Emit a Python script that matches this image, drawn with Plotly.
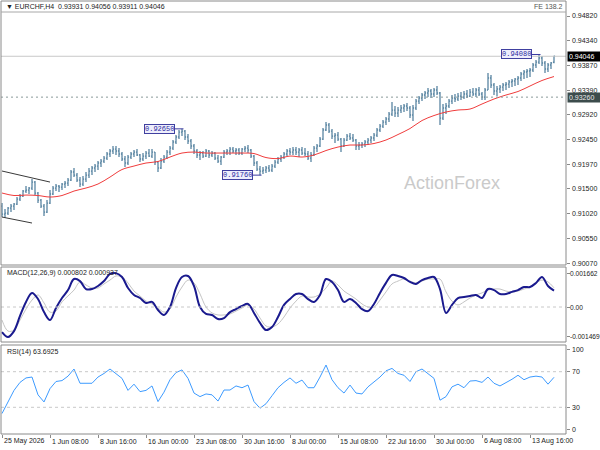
import plotly.graph_objects as go

# EURCHF H4 chart, bars (one bar per 8 hours)
opens = [
    0.91166, 0.91012, 0.91031, 0.91127, 0.91166, 0.91204, 0.91300, 0.91358, 0.91454, 0.91473,
    0.91512, 0.91627, 0.91416, 0.91281, 0.91166, 0.91050, 0.91223, 0.91397, 0.91512, 0.91550,
    0.91531, 0.91589, 0.91608, 0.91666, 0.91820, 0.91762, 0.91666, 0.91589, 0.91685, 0.91762,
    0.91839, 0.91897, 0.91935, 0.91993, 0.92031, 0.92089, 0.92166, 0.92224, 0.92262, 0.92224,
    0.92166, 0.92070, 0.91993, 0.92108, 0.92166, 0.92204, 0.92147, 0.92070, 0.92127, 0.92185,
    0.92127, 0.92204, 0.92012, 0.91897, 0.92031, 0.92108, 0.92204, 0.92281, 0.92397, 0.92493,
    0.92589, 0.92608, 0.92493, 0.92416, 0.92320, 0.92224, 0.92147, 0.92185, 0.92127, 0.92224,
    0.92147, 0.92185, 0.92089, 0.92031, 0.92108, 0.92204, 0.92224, 0.92262, 0.92224, 0.92243,
    0.92185, 0.92262, 0.92281, 0.92243, 0.92127, 0.91993, 0.91877, 0.91839, 0.91858, 0.91897,
    0.91858, 0.91935, 0.92012, 0.92070, 0.92108, 0.92166, 0.92224, 0.92204, 0.92243, 0.92204,
    0.92243, 0.92185, 0.92166, 0.92089, 0.92147, 0.92281, 0.92320, 0.92454, 0.92628, 0.92724,
    0.92608, 0.92512, 0.92531, 0.92454, 0.92320, 0.92435, 0.92512, 0.92474, 0.92435, 0.92320,
    0.92339, 0.92358, 0.92397, 0.92435, 0.92474, 0.92531, 0.92628, 0.92704, 0.92781, 0.92839,
    0.92935, 0.93012, 0.92954, 0.93012, 0.93051, 0.93089, 0.93051, 0.92916, 0.93051, 0.93185,
    0.93243, 0.93301, 0.93339, 0.93378, 0.93320, 0.93397, 0.93339, 0.92858, 0.93051, 0.93089,
    0.93185, 0.93243, 0.93224, 0.93281, 0.93262, 0.93320, 0.93281, 0.93358, 0.93320, 0.93397,
    0.93320, 0.93262, 0.93397, 0.93628, 0.93493, 0.93378, 0.93416, 0.93454, 0.93493, 0.93512,
    0.93551, 0.93570, 0.93608, 0.93628, 0.93705, 0.93743, 0.93762, 0.93782, 0.93878, 0.93935,
    0.94012, 0.93916, 0.93801, 0.93878, 0.93931,
]
highs = [
    0.91223, 0.91108, 0.91147, 0.91204, 0.91223, 0.91339, 0.91397, 0.91473, 0.91550, 0.91531,
    0.91685, 0.91647, 0.91435, 0.91300, 0.91204, 0.91281, 0.91473, 0.91550, 0.91589, 0.91570,
    0.91608, 0.91647, 0.91704, 0.91858, 0.91897, 0.91800, 0.91723, 0.91743, 0.91820, 0.91897,
    0.91935, 0.91973, 0.92031, 0.92070, 0.92127, 0.92204, 0.92262, 0.92320, 0.92320, 0.92281,
    0.92204, 0.92127, 0.92147, 0.92204, 0.92243, 0.92262, 0.92166, 0.92185, 0.92224, 0.92262,
    0.92262, 0.92204, 0.92031, 0.92089, 0.92147, 0.92243, 0.92320, 0.92435, 0.92531, 0.92628,
    0.92650, 0.92628, 0.92551, 0.92454, 0.92358, 0.92262, 0.92224, 0.92224, 0.92262, 0.92243,
    0.92224, 0.92204, 0.92147, 0.92127, 0.92243, 0.92262, 0.92300, 0.92300, 0.92281, 0.92281,
    0.92281, 0.92320, 0.92339, 0.92262, 0.92147, 0.92031, 0.91935, 0.91916, 0.91935, 0.91954,
    0.91973, 0.92050, 0.92108, 0.92147, 0.92204, 0.92262, 0.92281, 0.92300, 0.92300, 0.92281,
    0.92300, 0.92281, 0.92224, 0.92204, 0.92320, 0.92358, 0.92493, 0.92666, 0.92781, 0.92762,
    0.92647, 0.92570, 0.92589, 0.92474, 0.92474, 0.92551, 0.92570, 0.92551, 0.92454, 0.92397,
    0.92397, 0.92435, 0.92474, 0.92512, 0.92570, 0.92666, 0.92743, 0.92820, 0.92878, 0.92974,
    0.93166, 0.93089, 0.93070, 0.93108, 0.93128, 0.93147, 0.93089, 0.93108, 0.93224, 0.93281,
    0.93339, 0.93378, 0.93435, 0.93416, 0.93435, 0.93474, 0.93358, 0.93128, 0.93147, 0.93224,
    0.93301, 0.93320, 0.93339, 0.93358, 0.93378, 0.93397, 0.93416, 0.93435, 0.93435, 0.93454,
    0.93358, 0.93435, 0.93724, 0.93685, 0.93531, 0.93474, 0.93493, 0.93531, 0.93551, 0.93589,
    0.93608, 0.93628, 0.93666, 0.93743, 0.93782, 0.93801, 0.93820, 0.93916, 0.93974, 0.94080,
    0.94051, 0.93955, 0.93916, 0.93935, 0.94056,
]
lows = [
    0.90954, 0.90935, 0.90993, 0.91050, 0.91089, 0.91185, 0.91262, 0.91339, 0.91416, 0.91397,
    0.91473, 0.91377, 0.91223, 0.91127, 0.90974, 0.91031, 0.91204, 0.91377, 0.91454, 0.91435,
    0.91473, 0.91512, 0.91550, 0.91647, 0.91723, 0.91627, 0.91531, 0.91550, 0.91627, 0.91704,
    0.91762, 0.91820, 0.91858, 0.91916, 0.91993, 0.92050, 0.92108, 0.92166, 0.92147, 0.92108,
    0.92031, 0.91916, 0.91954, 0.92070, 0.92108, 0.92127, 0.92012, 0.92031, 0.92070, 0.92108,
    0.92089, 0.91954, 0.91820, 0.91877, 0.91993, 0.92070, 0.92147, 0.92243, 0.92358, 0.92454,
    0.92512, 0.92435, 0.92358, 0.92262, 0.92166, 0.92089, 0.92050, 0.92089, 0.92108, 0.92089,
    0.92108, 0.92050, 0.91993, 0.91954, 0.92089, 0.92147, 0.92147, 0.92185, 0.92147, 0.92147,
    0.92147, 0.92204, 0.92185, 0.92089, 0.91935, 0.91839, 0.91760, 0.91781, 0.91800, 0.91820,
    0.91820, 0.91897, 0.91973, 0.92012, 0.92070, 0.92127, 0.92147, 0.92147, 0.92147, 0.92108,
    0.92147, 0.92127, 0.92050, 0.92012, 0.92127, 0.92204, 0.92300, 0.92435, 0.92608, 0.92570,
    0.92454, 0.92377, 0.92416, 0.92204, 0.92300, 0.92416, 0.92435, 0.92397, 0.92243, 0.92243,
    0.92281, 0.92300, 0.92339, 0.92377, 0.92416, 0.92493, 0.92589, 0.92666, 0.92724, 0.92781,
    0.92897, 0.92878, 0.92878, 0.92954, 0.92974, 0.92993, 0.92858, 0.92801, 0.93012, 0.93128,
    0.93185, 0.93224, 0.93262, 0.93243, 0.93262, 0.93301, 0.92724, 0.92820, 0.92935, 0.93051,
    0.93128, 0.93166, 0.93185, 0.93205, 0.93224, 0.93243, 0.93262, 0.93281, 0.93262, 0.93281,
    0.93205, 0.93205, 0.93397, 0.93435, 0.93301, 0.93281, 0.93339, 0.93378, 0.93397, 0.93435,
    0.93454, 0.93474, 0.93493, 0.93570, 0.93608, 0.93628, 0.93647, 0.93743, 0.93820, 0.93897,
    0.93858, 0.93724, 0.93743, 0.93801, 0.93911,
]
closes = [
    0.91012, 0.91031, 0.91127, 0.91166, 0.91204, 0.91300, 0.91358, 0.91454, 0.91473, 0.91512,
    0.91627, 0.91416, 0.91281, 0.91166, 0.91050, 0.91223, 0.91397, 0.91512, 0.91550, 0.91531,
    0.91589, 0.91608, 0.91666, 0.91820, 0.91762, 0.91666, 0.91589, 0.91685, 0.91762, 0.91839,
    0.91897, 0.91935, 0.91993, 0.92031, 0.92089, 0.92166, 0.92224, 0.92262, 0.92224, 0.92166,
    0.92070, 0.91993, 0.92108, 0.92166, 0.92204, 0.92147, 0.92070, 0.92127, 0.92185, 0.92127,
    0.92204, 0.92012, 0.91897, 0.92031, 0.92108, 0.92204, 0.92281, 0.92397, 0.92493, 0.92589,
    0.92608, 0.92493, 0.92416, 0.92320, 0.92224, 0.92147, 0.92185, 0.92127, 0.92224, 0.92147,
    0.92185, 0.92089, 0.92031, 0.92108, 0.92204, 0.92224, 0.92262, 0.92224, 0.92243, 0.92185,
    0.92262, 0.92281, 0.92243, 0.92127, 0.91993, 0.91877, 0.91839, 0.91858, 0.91897, 0.91858,
    0.91935, 0.92012, 0.92070, 0.92108, 0.92166, 0.92224, 0.92204, 0.92243, 0.92204, 0.92243,
    0.92185, 0.92166, 0.92089, 0.92147, 0.92281, 0.92320, 0.92454, 0.92628, 0.92724, 0.92608,
    0.92512, 0.92531, 0.92454, 0.92320, 0.92435, 0.92512, 0.92474, 0.92435, 0.92320, 0.92339,
    0.92358, 0.92397, 0.92435, 0.92474, 0.92531, 0.92628, 0.92704, 0.92781, 0.92839, 0.92935,
    0.93012, 0.92954, 0.93012, 0.93051, 0.93089, 0.93051, 0.92916, 0.93051, 0.93185, 0.93243,
    0.93301, 0.93339, 0.93378, 0.93320, 0.93397, 0.93339, 0.92858, 0.93051, 0.93089, 0.93185,
    0.93243, 0.93224, 0.93281, 0.93262, 0.93320, 0.93281, 0.93358, 0.93320, 0.93397, 0.93320,
    0.93262, 0.93397, 0.93628, 0.93493, 0.93378, 0.93416, 0.93454, 0.93493, 0.93512, 0.93551,
    0.93570, 0.93608, 0.93628, 0.93705, 0.93743, 0.93762, 0.93782, 0.93878, 0.93935, 0.94012,
    0.93916, 0.93801, 0.93878, 0.93916, 0.94046,
]

# red moving average, one value every 4th bar
ma_values = [
    0.91416, 0.91368, 0.91377, 0.91368, 0.91339, 0.91368, 0.91454, 0.91512, 0.91589, 0.91723,
    0.91868, 0.91935, 0.91993, 0.92022, 0.92108, 0.92185, 0.92204, 0.92185, 0.92185, 0.92185,
    0.92185, 0.92175, 0.92098, 0.92079, 0.92127, 0.92108, 0.92147, 0.92233, 0.92300, 0.92339,
    0.92339, 0.92368, 0.92435, 0.92541, 0.92656, 0.92810, 0.92906, 0.92974, 0.93012, 0.93031,
    0.93128, 0.93224, 0.93301, 0.93368, 0.93474, 0.93580, 0.93656,
]

# MACD(12,26,9) main and signal, one value every 2nd bar
macd_values = [
    -0.00123, -0.00147, -0.00118, -0.00044, 0.00025, 0.00069, 0.00039, -0.00025, -0.00064, -0.00005,
    0.00044, 0.00083, 0.00137, 0.00127, 0.00088, 0.00088, 0.00103, 0.00127, 0.00162, 0.00166,
    0.00147, 0.00093, 0.00059, 0.00044, 0.00020, 0.00025, -0.00015, -0.00039, 0.00000, 0.00093,
    0.00147, 0.00152, 0.00103, 0.00000, -0.00034, -0.00039, -0.00059, -0.00054, -0.00025, -0.00010,
    0.00005, 0.00015, -0.00029, -0.00078, -0.00113, -0.00098, -0.00049, 0.00010, 0.00039, 0.00064,
    0.00064, 0.00039, 0.00025, 0.00059, 0.00137, 0.00123, 0.00083, 0.00025, 0.00039, 0.00020,
    -0.00010, -0.00020, 0.00015, 0.00069, 0.00118, 0.00157, 0.00152, 0.00142, 0.00123, 0.00113,
    0.00132, 0.00142, 0.00147, 0.00088, -0.00029, 0.00010, 0.00044, 0.00049, 0.00054, 0.00059,
    0.00044, 0.00088, 0.00083, 0.00064, 0.00064, 0.00074, 0.00083, 0.00098, 0.00098, 0.00118,
    0.00147, 0.00103, 0.00080,
]
signal_values = [
    -0.00064, -0.00118, -0.00113, -0.00064, -0.00010, 0.00034, 0.00059, 0.00020, -0.00025, -0.00020,
    0.00025, 0.00054, 0.00083, 0.00123, 0.00108, 0.00093, 0.00093, 0.00113, 0.00132, 0.00152,
    0.00147, 0.00118, 0.00078, 0.00054, 0.00029, 0.00015, -0.00005, -0.00025, -0.00010, 0.00049,
    0.00098, 0.00132, 0.00118, 0.00064, 0.00000, -0.00029, -0.00039, -0.00039, -0.00034, -0.00020,
    -0.00005, 0.00010, -0.00010, -0.00054, -0.00093, -0.00098, -0.00083, -0.00049, -0.00005, 0.00029,
    0.00054, 0.00049, 0.00049, 0.00064, 0.00093, 0.00127, 0.00108, 0.00078, 0.00059, 0.00039,
    0.00015, 0.00000, 0.00000, 0.00034, 0.00074, 0.00113, 0.00127, 0.00137, 0.00127, 0.00118,
    0.00127, 0.00137, 0.00137, 0.00137, 0.00074, 0.00029, 0.00010, 0.00025, 0.00044, 0.00059,
    0.00069, 0.00083, 0.00088, 0.00088, 0.00078, 0.00074, 0.00078, 0.00088, 0.00098, 0.00118,
    0.00132, 0.00123, 0.00094,
]

# RSI(14), one value every 2nd bar
rsi_values = [
    23, 36, 49, 58, 63, 64, 44, 36, 51, 59,
    60, 65, 73, 57, 57, 57, 64, 68, 73, 68,
    62.5, 49, 56, 47.6, 49, 54, 36.4, 47, 61, 69,
    72, 62.5, 46, 42, 45, 44, 37, 49.4, 49.4, 54,
    52, 55, 36.4, 29, 34, 43, 52, 58, 63, 57,
    60.6, 52, 52, 64, 77.5, 61, 52, 46, 55, 46,
    45, 53, 58, 64, 71, 73.7, 68, 66, 59, 70,
    73, 68, 62.5, 38, 42, 53, 56, 52, 59.5, 60,
    58, 64, 57, 54, 57.5, 61.5, 66, 61, 64, 65,
    64, 56, 63.6925,
]

x_labels = ["25 May 2026", "1 Jun 08:00", "8 Jun 16:00", "16 Jun 00:00", "23 Jun 08:00",
            "30 Jun 16:00", "8 Jul 00:00", "15 Jul 08:00", "22 Jul 16:00", "30 Jul 00:00",
            "6 Aug 08:00", "13 Aug 16:00"]
bars_per_label = 16

price_ticks = [0.94820, 0.94340, 0.93870, 0.93390, 0.92920, 0.92450,
               0.91970, 0.91500, 0.91020, 0.90550, 0.90070]
macd_ticks = [0.001662, 0.0, -0.001469]
macd_tick_text = ["0.001662", "0.00", "-0.001469"]
rsi_ticks = [95.5, 70, 30, 5.5]
rsi_tick_text = ["100", "70", "30", "0"]
rsi_levels = [70, 30]

current_price = 0.94046
level_price = 0.93260
swing_marks = [(60, 0.92650), (86, 0.91760), (179, 0.94080)]
channel_upper = [(0, 0.91839), (16, 0.91627)]
channel_lower = [(0, 0.90954), (10, 0.90839)]

header_text = "▼ EURCHF,H4  0.93931 0.94056 0.93911 0.94046"
macd_text = "MACD(12,26,9) 0.000802 0.000937"
rsi_text = "RSI(14) 63.6925"

# ---- layout helpers (pixel -> paper) ----
W, H = 600, 450
def px(x):
    return x / W
def py(y):
    return 1 - y / H

BAR_COL = "#5a86a3"
FRAME = "#8a8a8a"
TXT = "#222222"
FONT = "Liberation Sans"
RIGHT = 566

bar_x = list(range(len(closes)))
ma_x = bar_x[::4]
ind_x = bar_x[::2]

fig = go.Figure()

fig.add_trace(go.Ohlc(
    x=bar_x, open=opens, high=highs, low=lows, close=closes,
    increasing=dict(line=dict(color=BAR_COL, width=1.3)),
    decreasing=dict(line=dict(color=BAR_COL, width=1.3)),
    tickwidth=0.35, hoverinfo="skip", xaxis="x", yaxis="y"
))
fig.add_trace(go.Scatter(
    x=ma_x, y=ma_values, mode="lines", line=dict(color="#f03c3c", width=1, shape="spline"),
    hoverinfo="skip", xaxis="x", yaxis="y"
))
# channel lines
for seg in (channel_upper, channel_lower):
    fig.add_trace(go.Scatter(
        x=[p[0] for p in seg], y=[p[1] for p in seg], mode="lines",
        line=dict(color="#3a3a3a", width=1), hoverinfo="skip", xaxis="x", yaxis="y"
    ))

# MACD
fig.add_trace(go.Scatter(
    x=ind_x, y=signal_values, mode="lines", line=dict(color="#c4c4c4", width=1, shape="spline"),
    hoverinfo="skip", xaxis="x", yaxis="y2"
))
fig.add_trace(go.Scatter(
    x=ind_x, y=macd_values, mode="lines", line=dict(color="#1a1a8e", width=2, shape="spline"),
    hoverinfo="skip", xaxis="x", yaxis="y2"
))

# RSI
fig.add_trace(go.Scatter(
    x=ind_x, y=rsi_values, mode="lines", line=dict(color="#3d9bff", width=1),
    hoverinfo="skip", xaxis="x", yaxis="y3"
))

shapes = []
# level lines
shapes.append(dict(type="line", xref="paper", yref="y", x0=px(1), x1=px(RIGHT),
                   y0=current_price, y1=current_price, line=dict(color="#c8c8c8", width=1)))
shapes.append(dict(type="line", xref="paper", yref="y", x0=px(1), x1=px(RIGHT),
                   y0=level_price, y1=level_price, line=dict(color="#8a9a9a", width=1, dash="2px,3px")))
shapes.append(dict(type="line", xref="paper", yref="y2", x0=px(1), x1=px(RIGHT),
                   y0=0, y1=0, line=dict(color="#c8c8c8", width=1, dash="3px,3px")))
for lv in rsi_levels:
    shapes.append(dict(type="line", xref="paper", yref="y3", x0=px(1), x1=px(RIGHT),
                       y0=lv, y1=lv, line=dict(color="#c8c8c8", width=1, dash="3px,3px")))

# panel frames
for top, bot in ((1, 265), (267, 342), (345, 434)):
    shapes.append(dict(type="rect", xref="paper", yref="paper", x0=px(1), x1=px(RIGHT),
                       y0=py(bot), y1=py(top), line=dict(color=FRAME, width=1)))
shapes.append(dict(type="line", xref="paper", yref="paper", x0=px(1), x1=px(RIGHT),
                   y0=py(12), y1=py(12), line=dict(color="#a8a8a8", width=1)))

annotations = []
# swing labels with connectors
for bar, price in swing_marks:
    shapes.append(dict(type="line", xref="x", yref="y", x0=bar - 2.4, x1=bar + 0.5,
                       y0=price, y1=price, line=dict(color="#3a3aa0", width=1)))
    annotations.append(dict(x=bar - 2.4, y=price, xref="x", yref="y", xanchor="right",
                            yanchor="middle", text=f"{price:.5f}", showarrow=False,
                            font=dict(family="Liberation Mono", size=7, color="#2a2aa0"),
                            bgcolor="#eeeefc", bordercolor="#4040a0", borderwidth=1, borderpad=0))

# right scale labels (drawn as text so they stay inside the 600 px page)
def scale_labels(vals, texts, yref, x_px, size):
    for v, t in zip(vals, texts):
        annotations.append(dict(x=px(x_px), y=v, xref="paper", yref=yref, xanchor="left",
                                yanchor="middle", text=t, showarrow=False,
                                font=dict(family=FONT, size=size, color=TXT)))

scale_labels(price_ticks, [f"{v:.5f}" for v in price_ticks], "y", RIGHT + 4, 7)
scale_labels(macd_ticks, macd_tick_text, "y2", RIGHT + 2, 6.6)
scale_labels(rsi_ticks, rsi_tick_text, "y3", RIGHT + 4, 7)

# price boxes on the right scale
annotations.append(dict(x=px(RIGHT + 1), y=current_price, xref="paper", yref="y", xanchor="left",
                        yanchor="middle", text=f"{current_price:.5f}", showarrow=False,
                        font=dict(family=FONT, size=7, color="white"),
                        bgcolor="black", borderpad=1, width=31, align="left"))
annotations.append(dict(x=px(RIGHT + 1), y=level_price, xref="paper", yref="y", xanchor="left",
                        yanchor="middle", text=f"{level_price:.5f}", showarrow=False,
                        font=dict(family=FONT, size=7, color="#e8e8e8"),
                        bgcolor="#3c4c4c", borderpad=1, width=31, align="left"))

# texts
annotations.append(dict(x=px(4), y=py(7), xref="paper", yref="paper", xanchor="left",
                        yanchor="middle", text=header_text, showarrow=False,
                        font=dict(family=FONT, size=7, color=TXT)))
annotations.append(dict(x=px(RIGHT - 1), y=py(7), xref="paper", yref="paper", xanchor="right",
                        yanchor="middle", text="FE 138.2", showarrow=False,
                        font=dict(family=FONT, size=7, color="#555555")))
annotations.append(dict(x=px(5), y=py(273), xref="paper", yref="paper", xanchor="left",
                        yanchor="middle", text=macd_text, showarrow=False,
                        font=dict(family=FONT, size=7, color=TXT)))
annotations.append(dict(x=px(5), y=py(352), xref="paper", yref="paper", xanchor="left",
                        yanchor="middle", text=rsi_text, showarrow=False,
                        font=dict(family=FONT, size=7, color=TXT)))
annotations.append(dict(x=px(452), y=py(183), xref="paper", yref="paper", xanchor="center",
                        yanchor="middle", text="ActionForex", showarrow=False,
                        font=dict(family=FONT, size=18, color="#cacaca")))

label_pos = [i * bars_per_label for i in range(len(x_labels))]
for pos, lab in zip(label_pos, x_labels):
    annotations.append(dict(x=pos, y=py(441), xref="x", yref="paper", xanchor="left",
                            yanchor="middle", text=lab, showarrow=False,
                            font=dict(family=FONT, size=7, color=TXT)))

axis_common = dict(showgrid=False, zeroline=False, showline=False, fixedrange=True,
                   showticklabels=False, ticks="outside", ticklen=3, tickcolor=FRAME)

fig.update_layout(
    width=W, height=H, margin=dict(l=0, r=0, t=0, b=0),
    paper_bgcolor="white", plot_bgcolor="white", showlegend=False,
    font=dict(family=FONT, size=7, color=TXT),
    xaxis=dict(domain=[px(1), px(RIGHT)], range=[-1 / 3, 188], anchor="y3",
               tickvals=label_pos, rangeslider=dict(visible=False), **axis_common),
    yaxis=dict(domain=[py(265), py(12)], range=[0.90032, 0.94897], anchor="x", side="right",
               tickvals=price_ticks, **axis_common),
    yaxis2=dict(domain=[py(342), py(267)], range=[-0.001715, 0.00196], anchor="x", side="right",
                tickvals=macd_ticks, **axis_common),
    yaxis3=dict(domain=[py(434), py(345)], range=[0, 100], anchor="x", side="right",
                tickvals=rsi_ticks, **axis_common),
    shapes=shapes, annotations=annotations,
)

# page body has a default 8px margin; drop it so the 600x450 figure fills the window
fig.write_html("out.html", config={"displayModeBar": False},
               post_script="document.body.style.margin='0';"
                           "document.body.style.overflow='hidden';")
